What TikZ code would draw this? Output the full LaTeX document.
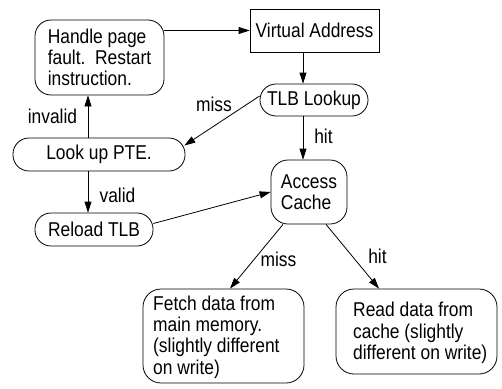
\documentclass[tikz,border=0pt]{standalone}
\usepackage{fontspec}
\setmainfont{Liberation Sans}[FakeStretch=0.87]
\usetikzlibrary{arrows.meta,calc}

\tikzset{
  every node/.style={font=\fontsize{20}{21.3}\selectfont},
  box/.style={draw, line width=0.8pt, inner sep=0pt, align=left},
  rbox/.style={box, rounded corners=16pt},
  pill/.style={box, rounded corners=16pt},
  txt/.style={inner sep=0pt, align=left},
  arr/.style={line width=0.8pt, -{Triangle[length=11pt,width=7pt]}},
  lbl/.style={anchor=base, inner sep=0pt},
}

\begin{document}
\begin{tikzpicture}[x=1pt, y=-1pt]
  \fill[white] (0,0) rectangle (502,388);

  % states of the address translation
  \node[box, minimum width=129pt, minimum height=43pt] (va) at (314.5,30.5) {Virtual Address};
  \node[rbox, minimum width=129pt, minimum height=75pt] (hpf) at (99.5,57.5)
    {Handle page\\fault.\ \ Restart\\instruction.};
  \node[pill, minimum width=108pt, minimum height=32pt] (tlb) at (314,100) {TLB Lookup};
  \node[pill, minimum width=172pt, minimum height=33pt] (pte) at (99,154.5) {Look up PTE.};
  \node[pill, minimum width=118pt, minimum height=33pt] (rl) at (94,229.5) {Reload TLB};
  \node[rbox, rounded corners=17pt, minimum width=76pt, minimum height=64pt] (acc) at (309,192)
    {Access\\Cache};

  % cache outcomes
  \node[rbox, rounded corners=18pt, minimum width=161pt, minimum height=94pt] (fetch) at (223.5,336) {};
  \node[txt, anchor=west] (fetchtxt) at (153,337)
    {Fetch data from\\main memory.\\(slightly different\\on write)};
  \node[rbox, rounded corners=18pt, minimum width=161pt, minimum height=85pt] (read) at (416.5,331.5) {};
  \node[txt, anchor=west] (readtxt) at (353,333)
    {Read data from\\cache (slightly\\different on write)};

  % vertical connector columns
  \coordinate (cx) at (303,0);
  \coordinate (cy) at (88,0);

  \draw[arr] (hpf.east |- va.west) -- (va.west);
  \draw[arr] (va.south -| cx) -- (tlb.north -| cx);
  \draw[arr] (tlb.south -| cx) -- (acc.north -| cx);
  \draw[arr] ($(tlb.west)+(0,-4)$) -- ($(pte.east)+(-1,-9)$);
  \draw[arr] (pte.north -| cy) -- (hpf.south -| cy);
  \draw[arr] (pte.south -| cy) -- (rl.north -| cy);
  \draw[arr] ($(rl.east)+(0,-6)$) -- (acc.west);
  \draw[arr] ($(acc.south)+(-26,0)$) -- ($(fetch.north)+(6.5,0)$);
  \draw[arr] ($(acc.south)+(17,0)$) -- ($(read.north)+(-37.5,0)$);

  % edge labels
  \node[lbl] (lmiss1) at (214,111) {miss};
  \node[lbl] (linv) at (52.5,123) {invalid};
  \node[lbl] (lval) at (117.5,202) {valid};
  \node[lbl] (lhit1) at (323.5,143) {hit};
  \node[lbl] (lmiss2) at (278.5,266.5) {miss};
  \node[lbl] (lhit2) at (377.5,263.5) {hit};
\end{tikzpicture}
\end{document}
